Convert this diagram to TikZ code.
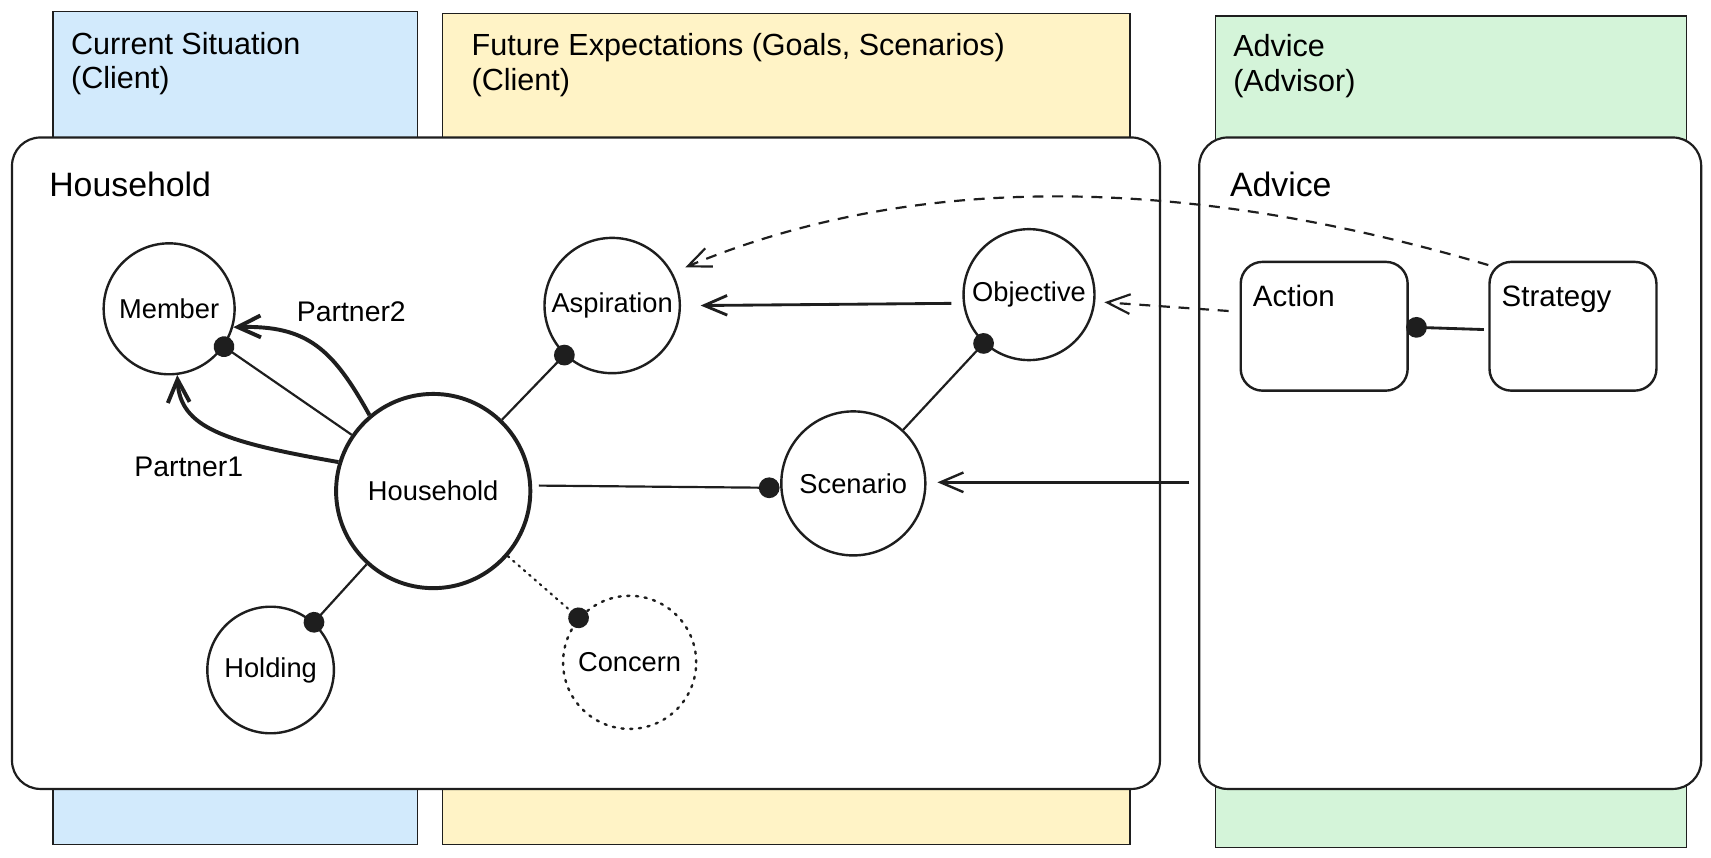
\documentclass[tikz,border=0pt]{standalone}
\usepackage{fontspec}
\setmainfont{Liberation Sans}
\usetikzlibrary{arrows.meta,calc}
\definecolor{hblue}{HTML}{D2EAFC}
\definecolor{hyellow}{HTML}{FFF3C6}
\definecolor{hgreen}{HTML}{D4F4D9}
\definecolor{ink}{HTML}{1E1E1E}
\begin{document}
\begin{tikzpicture}[x=1pt,y=-1pt,
  lane/.style={draw=ink, line width=1.2pt, anchor=north west, inner sep=0pt},
  panel/.style={draw=ink, fill=white, line width=2pt, rounded corners=26pt, anchor=north west, inner sep=0pt},
  circ/.style={circle, draw=ink, line width=2.2pt, inner sep=0pt, font=\fontsize{25}{28}\selectfont},
  rbox/.style={draw=ink, line width=2.2pt, rounded corners=20pt, minimum width=153pt, minimum height=118pt, inner sep=0pt},
  hdr/.style={anchor=north west, align=left, inner sep=0pt, font=\fontsize{28}{32}\selectfont},
  ttl/.style={anchor=base west, inner sep=0pt, font=\fontsize{31}{34}\selectfont},
  lbl/.style={inner sep=0pt, font=\fontsize{26}{28}\selectfont},
  boxlbl/.style={anchor=base west, inner sep=0pt, font=\fontsize{27}{30}\selectfont},
  dotend/.style={draw=ink, line width=2pt, -{Circle[length=19pt]}, shorten >=-9.5pt},
  arr/.style={draw=ink, line width=2.6pt, -{Straight Barb[length=21pt,width=18pt]}},
  thickarr/.style={draw=ink, line width=3.6pt, -{Straight Barb[length=21pt,width=20pt]}},
  dasharr/.style={draw=ink, line width=2pt, dash pattern=on 10pt off 8pt, -{Straight Barb[length=21pt,width=18pt]}},
]
\useasboundingbox (0,0) rectangle (1568,786);
% lanes
\node[lane, fill=hblue, minimum width=334pt, minimum height=763pt] (laneA) at (48,10) {};
\node[lane, fill=hyellow, minimum width=630pt, minimum height=761pt] (laneB) at (405,12) {};
\node[lane, fill=hgreen, minimum width=432pt, minimum height=762pt] (laneC) at (1113,14) {};
\node[hdr] (hdrA) at (65,29) {Current Situation\\(Client)};
\node[hdr] (hdrB) at (432,30) {Future Expectations (Goals, Scenarios)\\(Client)};
\node[hdr] (hdrC) at (1130,31) {Advice\\(Advisor)};
% panels
\node[panel, minimum width=1052pt, minimum height=597pt] (hhpanel) at (10,125) {};
\node[panel, minimum width=460pt, minimum height=597pt] (advpanel) at (1098,125) {};
\node[ttl] (hhtitle) at (45,180) {Household};
\node[ttl] (advtitle) at (1127,180) {Advice};
% circles
\node[circ, minimum size=120pt] (member) at (155,283) {Member};
\node[circ, minimum size=124pt] (aspiration) at (561,280) {Aspiration};
\node[circ, minimum size=120pt] (objective) at (943,270) {Objective};
\node[circ, minimum size=178pt, line width=3.6pt] (household) at (397,450) {Household};
\node[circ, minimum size=132pt] (scenario) at (782,443) {Scenario};
\node[circ, minimum size=116pt] (holding) at (248,614) {Holding};
\node[circ, minimum size=122pt, dash pattern=on 2pt off 6pt, line cap=round] (concern) at (577,607) {Concern};
% advice boxes
\node[rbox] (action) at (1213.5,299) {};
\node[rbox] (strategy) at (1441.5,299) {};
\node[boxlbl] (actionlbl) at (1148,281) {Action};
\node[boxlbl] (strategylbl) at (1376,281) {Strategy};
% labels
\node[lbl] (p2lbl) at (322,286) {Partner2};
\node[lbl] (p1lbl) at (173,428) {Partner1};
% connectors
\draw[dotend] (household) -- (member);
\draw[dotend] (household) -- (aspiration);
\draw[dotend] (household) -- (holding);
\draw[dotend, dash pattern=on 1.5pt off 5pt, line cap=round] (household) -- (concern);
\draw[dotend] ($(household.east)+(6,-5)$) -- ($(scenario.west)+(-10,4)$);
\draw[dotend] (scenario) -- (objective);
\draw[dotend, line width=2.6pt] ($(strategy.west)+(-4,3)$) -- ($(action.east)+(7,1)$);
\draw[thickarr] (household.130) .. controls (305,320) and (282,298) .. (member.344);
\draw[thickarr] (household.163) .. controls (205,405) and (165,392) .. (member.277);
\draw[arr] ($(objective.west)+(-10,8)$) -- ($(aspiration.east)+(18,0)$);
\draw[dasharr] ($(action.west)+(-10,-14)$) -- ($(objective.east)+(8,7)$);
\draw[dasharr] ($(strategy.north west)+(0,4)$) .. controls (1150,180) and (880,140) .. ($(aspiration.center)+(67,-35)$);
\coordinate (advin) at ($(advpanel.west |- scenario.center)+(-8,-1)$);
\draw[arr, line width=2.2pt] (advin) -- ($(scenario.east)+(10,-1)$);
\end{tikzpicture}
\end{document}
